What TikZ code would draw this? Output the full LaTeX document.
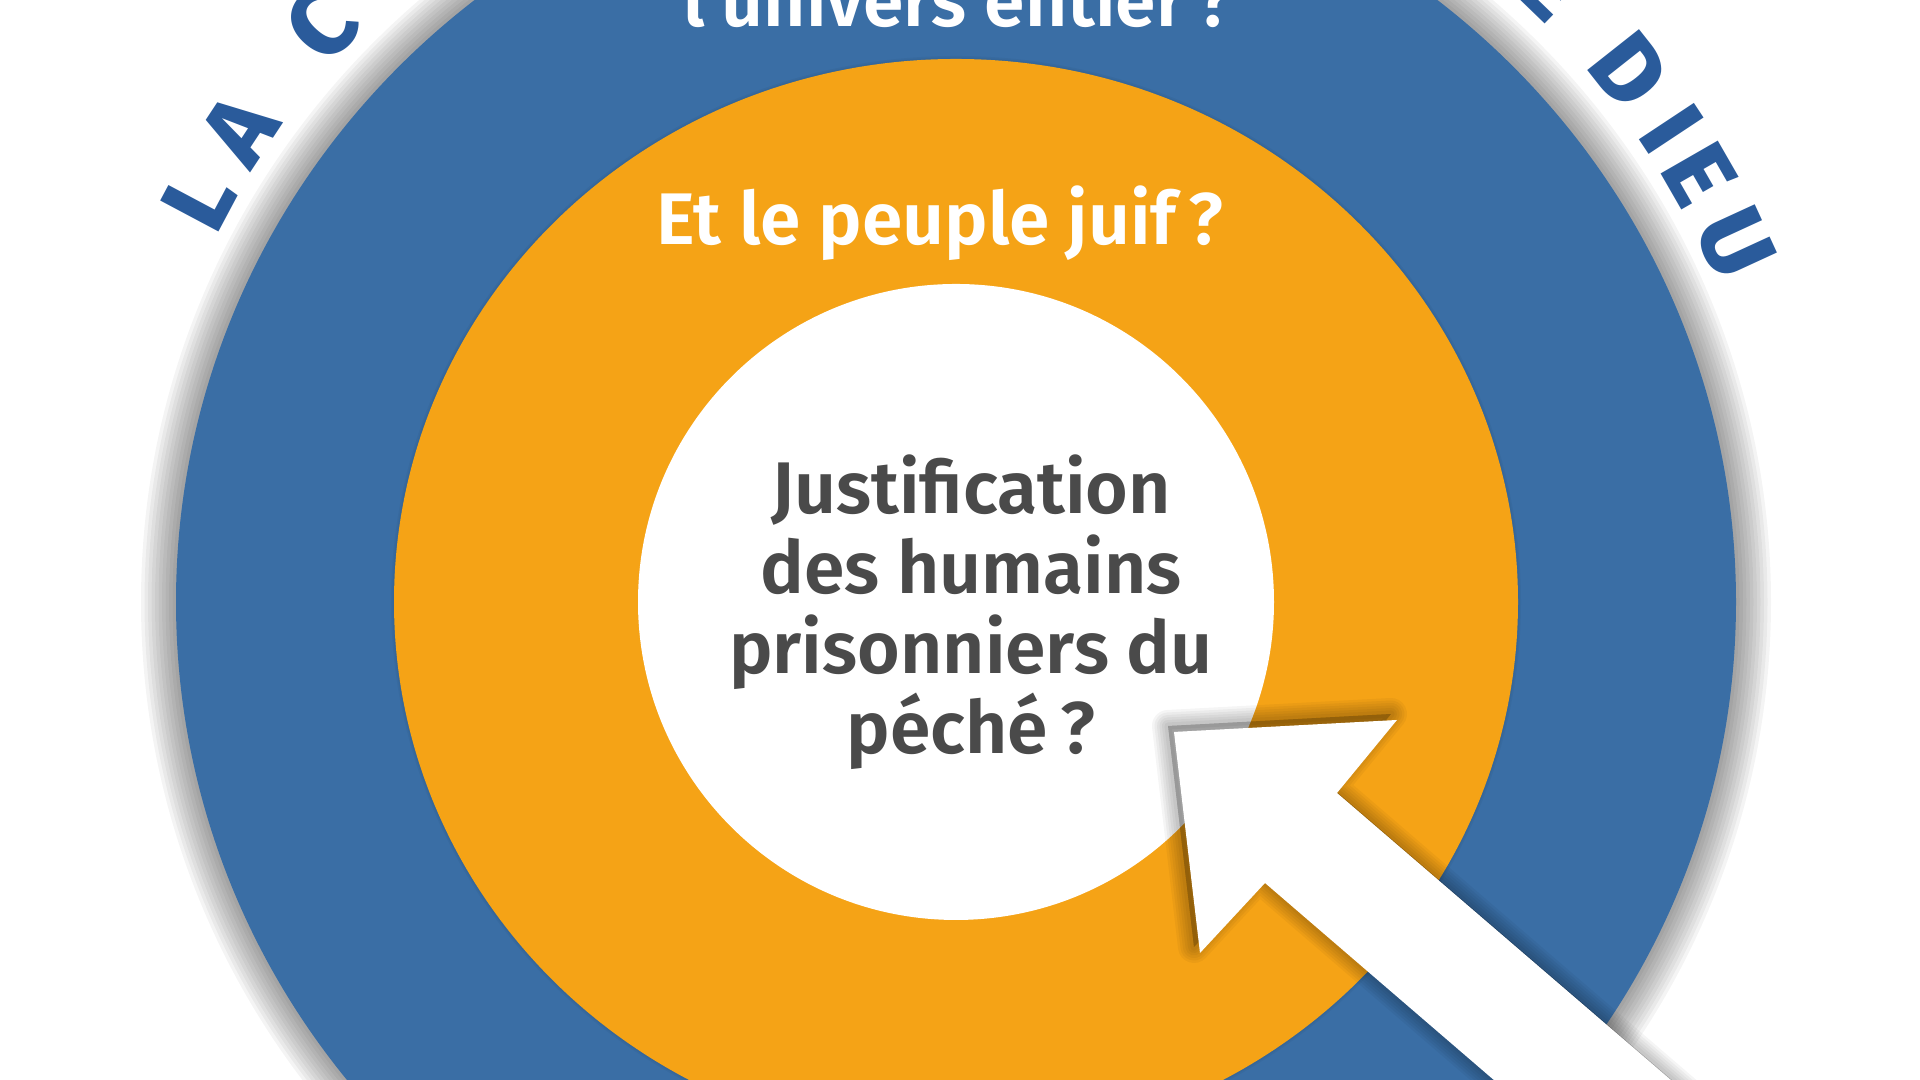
\documentclass[tikz,border=0pt]{standalone}
\usepackage{fontspec}
\setmainfont{Fira Sans}[UprightFont={* SemiBold},BoldFont={* ExtraBold}]
\definecolor{ringblue}{HTML}{3A6EA5}
\definecolor{titleblue}{HTML}{2A5B9B}
\definecolor{ringorange}{HTML}{F5A316}
\definecolor{textgray}{HTML}{4A4A4A}
\tikzset{
  ringtext/.style={text=white,font=\fontsize{20.8}{25}\selectfont,inner sep=0},
  centretext/.style={text=textgray,font=\fontsize{20.8}{22.8}\selectfont,align=center,inner sep=0},
  arcletter/.style={text=titleblue,font=\bfseries\fontsize{27}{27}\selectfont,inner sep=0},
  glowring/.style={black,opacity=0.045}
}
\begin{document}
\begin{tikzpicture}[x=0.01cm,y=0.01cm]
\useasboundingbox (0,0) rectangle (1920,1080);
\clip (0,0) rectangle (1920,1080);
\coordinate (c) at (956,478);

% discs
\foreach \i in {1,...,10}
  \fill[glowring] (c) ellipse[x radius=780+3.5*\i, y radius=765+3.5*\i];
\fill[ringblue] (c) ellipse[x radius=780, y radius=765];
\foreach \i in {1,2}
  \fill[black,opacity=0.035] (c) ellipse[x radius=562+1.5*\i, y radius=543+1.5*\i];
\fill[ringorange] (c) ellipse[x radius=562, y radius=543];
\fill[white] (c) circle[radius=318];

% title round the rim
\foreach \ch/\ang [count=\k] in {L/152.0, A/146.6, C/137.7, E/46.0, D/38.3, I/33.5, E/29.9, U/24.7}
  \node[arcletter,rotate=\ang-90] (letter\k) at ([shift={(\ang:858)}]c) {\ch};

\node[ringtext,anchor=base] (univers) at (958,1053) {l’univers entier\,?};
\node[ringtext,anchor=base] (peuple) at (940,835) {Et le peuple juif\,?};
\node[centretext] (justif) at (971,468) {Justification\\des humains\\prisonniers du\\péché\,?};

% arrow
\coordinate (tip) at (1174,348);
\coordinate (rbarb) at (1397,360);
\coordinate (rnotch) at (1337,287);
\coordinate (rend) at (1800,-111);
\coordinate (lend) at (1689,-168);
\coordinate (lnotch) at (1265,197);
\coordinate (lbarb) at (1200,127);
\begin{scope}[transform canvas={shift={(-6,6)}}]
  \foreach \w in {32,27,22,17,12,7}
    \filldraw[black,opacity=0.04,line width=\w*0.01cm,line join=round]
      (tip) -- (rbarb) -- (rnotch) -- (rend) -- (lend) -- (lnotch) -- (lbarb) -- cycle;
\end{scope}
\fill[white] (tip) -- (rbarb) -- (rnotch) -- (rend) -- (lend) -- (lnotch) -- (lbarb) -- cycle;
\end{tikzpicture}
\end{document}
